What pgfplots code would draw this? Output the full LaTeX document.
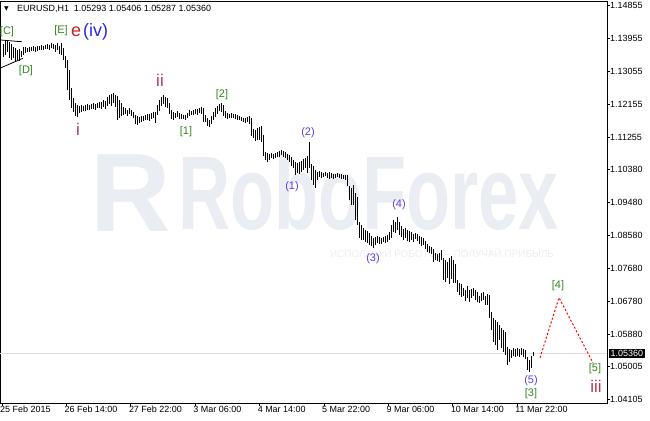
\documentclass[border=0pt]{standalone}
\usepackage{pgfplots}
\pgfplotsset{compat=1.18}
\usepackage{pgfplotstable}
\usepackage{fontspec}
\setmainfont{Liberation Sans}
\newfontfamily\dejavu{DejaVu Sans}
\definecolor{wave}{RGB}{50,135,30}
\definecolor{ered}{RGB}{195,35,35}
\definecolor{ivblue}{RGB}{40,40,230}
\definecolor{roman}{RGB}{175,55,80}
\definecolor{paren}{RGB}{90,60,240}
\definecolor{wm}{RGB}{234,237,242}
\definecolor{pline}{RGB}{222,222,222}
\pgfplotstableread{
x lo hi
3 1.1345 1.1380
5 1.1350 1.1389
7 1.1359 1.1391
9 1.1342 1.1386
11 1.1337 1.1380
13 1.1342 1.1372
15 1.1331 1.1370
17 1.1337 1.1364
19 1.1334 1.1367
21 1.1345 1.1361
23 1.1350 1.1372
25 1.1356 1.1372
27 1.1359 1.1370
29 1.1359 1.1372
31 1.1361 1.1372
33 1.1361 1.1375
35 1.1359 1.1372
37 1.1361 1.1375
39 1.1364 1.1375
41 1.1364 1.1378
43 1.1364 1.1375
45 1.1367 1.1378
47 1.1367 1.1380
49 1.1364 1.1378
51 1.1370 1.1383
53 1.1367 1.1380
55 1.1359 1.1378
57 1.1364 1.1383
59 1.1353 1.1375
61 1.1350 1.1383
63 1.1337 1.1370
65 1.1315 1.1348
67 1.1255 1.1337
69 1.1228 1.1310
71 1.1206 1.1260
73 1.1195 1.1233
75 1.1184 1.1219
77 1.1181 1.1214
79 1.1192 1.1211
81 1.1195 1.1214
83 1.1198 1.1211
85 1.1198 1.1214
87 1.1200 1.1217
89 1.1200 1.1214
91 1.1203 1.1217
93 1.1203 1.1220
95 1.1200 1.1217
97 1.1206 1.1220
99 1.1206 1.1222
101 1.1203 1.1222
103 1.1209 1.1228
105 1.1203 1.1225
107 1.1211 1.1236
109 1.1217 1.1241
111 1.1211 1.1244
113 1.1220 1.1247
115 1.1209 1.1241
117 1.1173 1.1239
119 1.1179 1.1228
121 1.1184 1.1220
123 1.1187 1.1209
125 1.1190 1.1206
127 1.1184 1.1200
129 1.1190 1.1206
131 1.1184 1.1200
133 1.1179 1.1195
135 1.1162 1.1187
137 1.1160 1.1184
139 1.1165 1.1181
141 1.1168 1.1184
143 1.1170 1.1184
145 1.1173 1.1187
147 1.1173 1.1190
149 1.1170 1.1190
151 1.1176 1.1192
153 1.1179 1.1195
155 1.1165 1.1195
157 1.1187 1.1214
159 1.1198 1.1228
161 1.1211 1.1236
163 1.1217 1.1241
165 1.1209 1.1236
167 1.1206 1.1233
169 1.1190 1.1220
171 1.1176 1.1200
173 1.1173 1.1195
175 1.1179 1.1192
177 1.1181 1.1198
179 1.1176 1.1192
181 1.1176 1.1190
183 1.1176 1.1187
185 1.1173 1.1187
187 1.1179 1.1192
189 1.1184 1.1200
191 1.1187 1.1198
193 1.1187 1.1200
195 1.1190 1.1203
197 1.1187 1.1203
199 1.1192 1.1206
201 1.1190 1.1209
203 1.1168 1.1206
205 1.1168 1.1187
207 1.1157 1.1179
209 1.1154 1.1173
211 1.1162 1.1184
213 1.1173 1.1195
215 1.1181 1.1206
217 1.1190 1.1211
219 1.1198 1.1217
221 1.1195 1.1220
223 1.1184 1.1214
225 1.1179 1.1198
227 1.1176 1.1192
229 1.1179 1.1190
231 1.1179 1.1192
233 1.1179 1.1190
235 1.1176 1.1190
237 1.1173 1.1187
239 1.1173 1.1184
241 1.1170 1.1181
243 1.1168 1.1179
245 1.1165 1.1179
247 1.1168 1.1181
249 1.1162 1.1184
251 1.1130 1.1179
253 1.1124 1.1149
255 1.1116 1.1146
257 1.1119 1.1151
259 1.1119 1.1154
261 1.1113 1.1157
263 1.1075 1.1132
265 1.1064 1.1086
267 1.1059 1.1083
269 1.1064 1.1080
271 1.1070 1.1083
273 1.1067 1.1080
275 1.1070 1.1083
277 1.1072 1.1086
279 1.1072 1.1089
281 1.1078 1.1091
283 1.1072 1.1089
285 1.1070 1.1086
287 1.1064 1.1080
289 1.1059 1.1078
291 1.1048 1.1072
293 1.1042 1.1064
295 1.1023 1.1059
297 1.1029 1.1056
299 1.1026 1.1059
301 1.1031 1.1061
303 1.1037 1.1067
305 1.1042 1.1070
307 1.1029 1.1075
309 1.1042 1.1113
311 1.1009 1.1053
313 1.0996 1.1048
315 1.0988 1.1037
317 1.1009 1.1031
319 1.1018 1.1034
321 1.1015 1.1031
323 1.1018 1.1029
325 1.1020 1.1031
327 1.1015 1.1029
329 1.1012 1.1031
331 1.1015 1.1029
333 1.1012 1.1026
335 1.1015 1.1026
337 1.1018 1.1029
339 1.1015 1.1026
341 1.1012 1.1026
343 1.1012 1.1023
345 1.1009 1.1023
347 1.0993 1.1023
349 1.0955 1.0993
351 1.0941 1.0988
353 1.0941 1.0996
355 1.0900 1.0974
357 1.0887 1.0963
359 1.0851 1.0895
361 1.0846 1.0887
363 1.0846 1.0879
365 1.0840 1.0873
367 1.0838 1.0870
369 1.0832 1.0865
371 1.0829 1.0857
373 1.0824 1.0851
375 1.0832 1.0854
377 1.0838 1.0857
379 1.0835 1.0854
381 1.0835 1.0851
383 1.0840 1.0854
385 1.0838 1.0857
387 1.0840 1.0859
389 1.0846 1.0868
391 1.0851 1.0887
393 1.0868 1.0900
395 1.0865 1.0895
397 1.0873 1.0909
399 1.0859 1.0895
401 1.0854 1.0884
403 1.0846 1.0876
405 1.0851 1.0879
407 1.0843 1.0873
409 1.0840 1.0870
411 1.0846 1.0868
413 1.0840 1.0862
415 1.0849 1.0865
417 1.0843 1.0862
419 1.0835 1.0857
421 1.0829 1.0854
423 1.0832 1.0851
425 1.0821 1.0843
427 1.0813 1.0835
429 1.0810 1.0829
431 1.0808 1.0827
433 1.0786 1.0821
435 1.0791 1.0810
437 1.0789 1.0808
439 1.0786 1.0810
441 1.0791 1.0819
443 1.0737 1.0797
445 1.0731 1.0791
447 1.0742 1.0786
449 1.0726 1.0797
451 1.0739 1.0802
453 1.0728 1.0791
455 1.0728 1.0780
457 1.0704 1.0737
459 1.0696 1.0728
461 1.0690 1.0726
463 1.0693 1.0715
465 1.0679 1.0709
467 1.0688 1.0720
469 1.0677 1.0709
471 1.0688 1.0712
473 1.0693 1.0715
475 1.0682 1.0709
477 1.0677 1.0704
479 1.0674 1.0693
481 1.0679 1.0701
483 1.0682 1.0704
485 1.0668 1.0693
487 1.0668 1.0698
489 1.0633 1.0696
491 1.0600 1.0649
493 1.0568 1.0633
495 1.0559 1.0628
497 1.0546 1.0622
499 1.0573 1.0614
501 1.0551 1.0606
503 1.0540 1.0600
505 1.0532 1.0595
507 1.0505 1.0554
509 1.0513 1.0548
511 1.0524 1.0546
513 1.0529 1.0551
515 1.0527 1.0548
517 1.0529 1.0551
519 1.0527 1.0548
521 1.0532 1.0551
523 1.0527 1.0548
525 1.0521 1.0546
527 1.0491 1.0527
529 1.0486 1.0518
531 1.0497 1.0529
533 1.0529 1.0541
}\bars
\begin{document}
\begin{tikzpicture}[x=1bp,y=1bp]
\begin{axis}[
  name=main,
  at={(0,0)}, anchor=south west,
  scale only axis, width=607bp, height=401bp,
  xmin=0, xmax=607, ymin=1.04006, ymax=1.14945,
  axis line style={line width=1bp, black},
  clip=false,
  xtick={2,66.4,130.8,195.2,259.6,324,388.4,452.8,517.2},
  xticklabels={25 Feb 2015,26 Feb 14:00,27 Feb 22:00,3 Mar 06:00,4 Mar 14:00,5 Mar 22:00,9 Mar 06:00,10 Mar 14:00,11 Mar 22:00},
  ytick={1.14855,1.13955,1.13055,1.12155,1.11255,1.10380,1.09480,1.08580,1.07680,1.06780,1.05880,1.05005,1.04105},
  yticklabels={1.14855,1.13955,1.13055,1.12155,1.11255,1.10380,1.09480,1.08580,1.07680,1.06780,1.05880,1.05005,1.04105},
  xtick pos=left, ytick pos=right, yticklabel pos=right,
  tick align=outside, major tick length=3bp,
  tick style={black, line width=1bp},
  xticklabel style={anchor=north west, xshift=-3bp, yshift=1bp, inner sep=1bp, font=\fontsize{9}{10}\selectfont},
  yticklabel style={anchor=west, xshift=-1bp, inner sep=1bp, font=\fontsize{9}{10}\selectfont},
]
% watermark
\node[anchor=base west, inner sep=0, text=wm, font=\fontsize{112}{112}\selectfont\bfseries] at (axis cs:90,1.0868) {R};
\node[anchor=base west, inner sep=0, text=wm, xscale=0.69, font=\fontsize{105}{105}\selectfont\bfseries] at (axis cs:178,1.0873) {RoboForex};
\node[text=wm, inner sep=0, font=\fontsize{10}{11}\selectfont] at (axis cs:442,1.0810) {ИСПОЛЬЗУЙ РОБОТОВ – ПОЛУЧАЙ ПРИБЫЛЬ};
% current price line
\addplot[draw=pline, line width=0.8bp] coordinates {(0,1.0536) (607,1.0536)};
% triangle trendlines
\addplot[black, line width=0.8bp] coordinates {(0,1.1391) (22,1.1386)};
\addplot[black, line width=0.8bp] coordinates {(0,1.1314) (23,1.1341)};
% bars
\addplot[draw=none, mark=none, error bars/.cd, y dir=plus, y explicit, error mark=none,
  error bar style={draw=black, solid, line width=1bp}]
  table[x=x, y=lo, y error plus expr=\thisrow{hi}-\thisrow{lo}] {\bars};
% projection
\addplot[red, line width=1bp, dash pattern=on 2bp off 2bp] coordinates {(540,1.0524) (559,1.0688) (593,1.0510)};
% labels
\node[text=wave, font=\fontsize{11}{12}\selectfont] at (axis cs:7,1.1413) {[C]};
\node[text=wave, font=\fontsize{11}{12}\selectfont] at (axis cs:26,1.1307) {[D]};
\node[text=wave, font=\fontsize{11}{12}\selectfont] at (axis cs:61,1.1416) {[E]};
\node[anchor=west, inner sep=0, font=\fontsize{18}{20}\selectfont] at (axis cs:71,1.1414) {\textcolor{ered}{e}\hspace{2bp}\textcolor{ivblue}{(iv)}};
\node[text=roman, font=\fontsize{17}{18}\selectfont] at (axis cs:78,1.1147) {i};
\node[text=roman, font=\fontsize{17}{18}\selectfont] at (axis cs:160,1.1282) {ii};
\node[text=wave, font=\fontsize{11}{12}\selectfont] at (axis cs:186,1.1140) {[1]};
\node[text=wave, font=\fontsize{11}{12}\selectfont] at (axis cs:222,1.1243) {[2]};
\node[text=paren, font=\fontsize{11}{12}\selectfont] at (axis cs:308,1.1138) {(2)};
\node[text=paren, font=\fontsize{11}{12}\selectfont] at (axis cs:292,1.0990) {(1)};
\node[text=paren, font=\fontsize{11}{12}\selectfont] at (axis cs:399,1.0941) {(4)};
\node[text=paren, font=\fontsize{11}{12}\selectfont] at (axis cs:373,1.0794) {(3)};
\node[text=wave, font=\fontsize{11}{12}\selectfont] at (axis cs:558,1.0720) {[4]};
\node[text=paren, font=\fontsize{11}{12}\selectfont] at (axis cs:531,1.0461) {(5)};
\node[text=wave, font=\fontsize{11}{12}\selectfont] at (axis cs:531,1.0426) {[3]};
\node[text=wave, font=\fontsize{11}{12}\selectfont] at (axis cs:595,1.0494) {[5]};
\node[text=roman, font=\fontsize{17}{18}\selectfont] at (axis cs:596,1.0447) {iii};
% current price box
\node[anchor=west, fill=black, text=white, inner xsep=1.5bp, inner ysep=1bp, font=\fontsize{9}{10}\selectfont] at (axis cs:609,1.0536) {1.05360};
% header
\node[anchor=west, inner sep=0, font=\dejavu\fontsize{6}{7}\selectfont] at (axis cs:4,1.1476) {▼};
\node[anchor=west, inner sep=0, font=\fontsize{9}{10}\selectfont] at (axis cs:17,1.1476) {EURUSD,H1\ \ 1.05293 1.05406 1.05287 1.05360};
\end{axis}
\pgfresetboundingbox
\path[use as bounding box] (main.south west) ++(0,-17) rectangle ++(650,420);
\end{tikzpicture}
\end{document}
